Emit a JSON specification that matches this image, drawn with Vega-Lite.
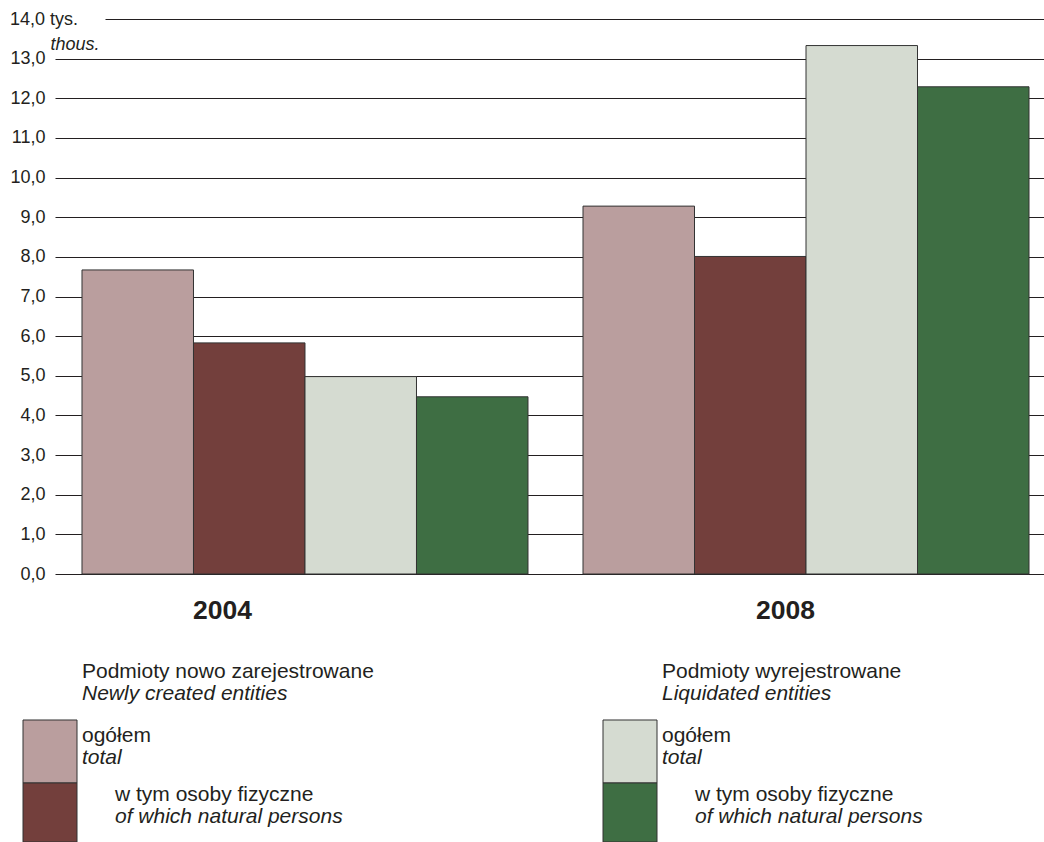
{
  "$schema": "https://vega.github.io/schema/vega-lite/v6.json",
  "autosize": {"type": "pad"},
  "padding": {"left": 9, "top": 10, "right": 0, "bottom": 0},
  "bounds": "flush",
  "spacing": 114.5,
  "config": {
    "font": "Liberation Sans",
    "view": {"stroke": null},
    "axis": {"labelColor": "#231F20", "titleColor": "#231F20"}
  },
  "vconcat": [
    {
      "width": 989,
      "height": 555,
      "data": {
        "values": [
          {"year": "2004", "series": "new_total", "value": 7.67},
          {"year": "2004", "series": "new_natural", "value": 5.83},
          {"year": "2004", "series": "liq_total", "value": 4.98},
          {"year": "2004", "series": "liq_natural", "value": 4.47},
          {"year": "2008", "series": "new_total", "value": 9.28},
          {"year": "2008", "series": "new_natural", "value": 8.01},
          {"year": "2008", "series": "liq_total", "value": 13.33},
          {"year": "2008", "series": "liq_natural", "value": 12.29}
        ]
      },
      "mark": {"type": "bar", "stroke": "#333333", "strokeWidth": 1},
      "encoding": {
        "x": {
          "field": "year",
          "type": "nominal",
          "scale": {"type": "band", "paddingInner": 0.1098, "paddingOuter": 0.0419, "align": 0.643},
          "axis": {
            "title": null,
            "domain": false,
            "ticks": false,
            "tickSize": 0,
            "labelAngle": 0,
            "labelPadding": 44,
            "labelBaseline": "alphabetic",
            "labelFontSize": 26.5,
            "labelFontWeight": "bold",
            "labelOffset": {"condition": {"test": "datum.value == '2004'", "value": -82.5}, "value": -20.5}
          }
        },
        "xOffset": {
          "field": "series",
          "type": "nominal",
          "sort": ["new_total", "new_natural", "liq_total", "liq_natural"],
          "scale": {"paddingInner": 0, "paddingOuter": 0}
        },
        "y": {
          "field": "value",
          "type": "quantitative",
          "scale": {"domain": [0, 14], "nice": false},
          "axis": {
            "title": "thous.",
            "titleAngle": 0,
            "titleAlign": "left",
            "titleBaseline": "alphabetic",
            "titleX": -5,
            "titleY": 30,
            "titleFontSize": 18,
            "titleFontWeight": "normal",
            "titleFontStyle": "italic",
            "values": [0, 1, 2, 3, 4, 5, 6, 7, 8, 9, 10, 11, 12, 13, 14],
            "labelExpr": "datum.value === 14 ? '14,0 tys.' : replace(format(datum.value, '.1f'), '.', ',')",
            "labelFontSize": 18,
            "labelAlign": {"condition": {"test": "datum.value === 14", "value": "left"}, "value": "right"},
            "labelPadding": {"condition": {"test": "datum.value === 14", "value": 45.5}, "value": 10},
            "labelBaseline": "middle",
            "ticks": false,
            "tickSize": 0,
            "domain": false,
            "grid": true,
            "gridColor": "#231F20",
            "gridWidth": 1,
            "gridOpacity": 1,
            "gridDash": {"condition": {"test": "datum.value === 14", "value": [0, 50, 2000, 0]}, "value": []}
          }
        },
        "color": {
          "field": "series",
          "type": "nominal",
          "scale": {
            "domain": ["new_total", "new_natural", "liq_total", "liq_natural"],
            "range": ["#BA9E9E", "#733F3C", "#D5DBD1", "#3E6E43"]
          },
          "legend": null
        }
      }
    },
    {
      "width": 580,
      "height": 126,
      "data": {
        "values": [
          {"group": "new", "row": "header", "pl": "Podmioty nowo zarejestrowane", "en": "Newly created entities"},
          {"group": "liq", "row": "header", "pl": "Podmioty wyrejestrowane", "en": "Liquidated entities"},
          {"group": "new", "row": "total", "series": "new_total", "pl": "ogółem", "en": "total"},
          {"group": "new", "row": "natural", "series": "new_natural", "pl": "w tym osoby fizyczne", "en": "of which natural persons"},
          {"group": "liq", "row": "total", "series": "liq_total", "pl": "ogółem", "en": "total"},
          {"group": "liq", "row": "natural", "series": "liq_natural", "pl": "w tym osoby fizyczne", "en": "of which natural persons"}
        ]
      },
      "encoding": {
        "x": {"field": "group", "type": "nominal", "scale": {"type": "point", "domain": ["new", "liq"], "padding": 0}, "axis": null},
        "y": {"field": "row", "type": "nominal", "scale": {"type": "point", "domain": ["header", "total", "natural"], "padding": 0}, "axis": null}
      },
      "layer": [
        {
          "transform": [{"filter": "datum.row != 'header'"}],
          "mark": {"type": "point", "filled": true, "opacity": 1, "size": 2916, "stroke": "#333333", "strokeWidth": 1, "xOffset": -5},
          "encoding": {
            "color": {
              "field": "series",
              "type": "nominal",
              "scale": {
                "domain": ["new_total", "new_natural", "liq_total", "liq_natural"],
                "range": ["#BA9E9E", "#733F3C", "#D5DBD1", "#3E6E43"]
              },
              "legend": null
            },
            "shape": {
              "field": "row",
              "type": "nominal",
              "scale": {"domain": ["total", "natural"], "range": ["M-1,-1.1667H1V1.1667H-1Z", "M-1,-1.1667H1V1.0185H-1Z"]},
              "legend": null
            }
          }
        },
        {
          "transform": [{"filter": "datum.row == 'header'"}],
          "mark": {"type": "text", "align": "left", "baseline": "alphabetic", "dx": 27, "dy": -10.5, "fontSize": 21, "color": "#231F20"},
          "encoding": {"text": {"field": "pl"}}
        },
        {
          "transform": [{"filter": "datum.row == 'header'"}],
          "mark": {"type": "text", "align": "left", "baseline": "alphabetic", "dx": 27, "dy": 11.5, "fontSize": 21, "fontStyle": "italic", "color": "#231F20"},
          "encoding": {"text": {"field": "en"}}
        },
        {
          "transform": [{"filter": "datum.row == 'total'"}],
          "mark": {"type": "text", "align": "left", "baseline": "alphabetic", "dx": 27, "dy": -9.8, "fontSize": 21, "color": "#231F20"},
          "encoding": {"text": {"field": "pl"}}
        },
        {
          "transform": [{"filter": "datum.row == 'total'"}],
          "mark": {"type": "text", "align": "left", "baseline": "alphabetic", "dx": 27, "dy": 12.5, "fontSize": 21, "fontStyle": "italic", "color": "#231F20"},
          "encoding": {"text": {"field": "en"}}
        },
        {
          "transform": [{"filter": "datum.row == 'natural'"}],
          "mark": {"type": "text", "align": "left", "baseline": "alphabetic", "dx": 60, "dy": -13.5, "fontSize": 21, "color": "#231F20"},
          "encoding": {"text": {"field": "pl"}}
        },
        {
          "transform": [{"filter": "datum.row == 'natural'"}],
          "mark": {"type": "text", "align": "left", "baseline": "alphabetic", "dx": 60, "dy": 8.5, "fontSize": 21, "fontStyle": "italic", "color": "#231F20"},
          "encoding": {"text": {"field": "en"}}
        }
      ]
    }
  ]
}
